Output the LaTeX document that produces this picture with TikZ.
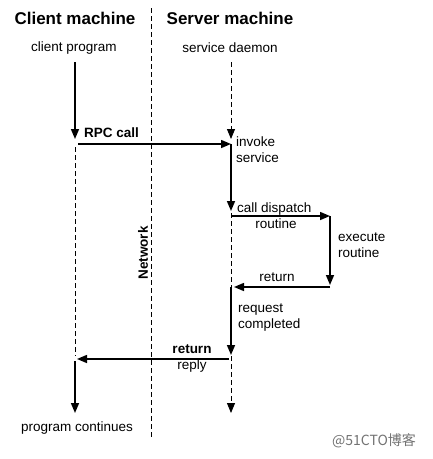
\documentclass[tikz,border=0pt]{standalone}
\usepackage{fontspec}
\setmainfont{Liberation Sans}
\newfontfamily\cjkfont{Noto Sans CJK SC}
\usetikzlibrary{arrows.meta}
\begin{document}
\begin{tikzpicture}[x=1pt,y=-1pt,
  title/.style={font=\fontsize{17}{19}\selectfont\bfseries, inner sep=0pt},
  lbl/.style={font=\fontsize{13.5}{16}\selectfont, inner sep=0pt, align=left},
  blbl/.style={font=\fontsize{13.5}{16}\selectfont\bfseries, inner sep=0pt},
  solidln/.style={line width=1.5pt},
  dashln/.style={line width=0.9pt, dash pattern=on 5pt off 3pt},
  tip/.style={-{Triangle[length=10pt,width=8pt]}}
]
\useasboundingbox[fill=white] (0,0) rectangle (433,459);
% titles
\node[title] (cm) at (75,18) {Client machine};
\node[title] (sm) at (230,18) {Server machine};
\node[lbl] (cp) at (74,48) {client program};
\node[lbl] (sd) at (230,48) {service daemon};
% network
\coordinate (n0) at (151,8);
\coordinate (n1) at (151,437);
\draw[dashln] (n0) -- (n1);
\node[blbl, rotate=90] (net) at (143,253) {Network};
% lifeline points
\coordinate (a0) at (75,62);
\coordinate (a1) at (75,144);
\coordinate (a2) at (75,359);
\coordinate (a3) at (75,413);
\coordinate (s0) at (231,62);
\coordinate (s1) at (231,144);
\coordinate (s2) at (231,216);
\coordinate (s3) at (231,287);
\coordinate (s4) at (231,359);
\coordinate (s5) at (231,413);
\coordinate (e1) at (330,216);
\coordinate (e2) at (330,287);
% client
\draw[solidln,tip,shorten >=5pt] (a0) -- (a1);
\draw[dashln] ([yshift=-3pt]a1) -- ([yshift=3pt]a2);
\draw[solidln,tip] ([yshift=-2pt]a2) -- (a3);
% RPC call
\draw[solidln,tip,shorten <=3pt] (a1) -- (s1);
\node[blbl, anchor=base west] (rpc) at (84,137) {RPC call};
% server
\draw[dashln,tip,shorten >=5pt] (s0) -- (s1);
\node[lbl, anchor=north west] (inv) at (236,137) {invoke\\service};
\draw[solidln,tip,shorten >=5pt] (s1) -- (s2);
\draw[solidln,tip] (s2) -- (e1);
\node[lbl, anchor=base west] (cd) at (237,212) {call dispatch};
\node[lbl] (rt) at (276,224) {routine};
\draw[solidln,tip,shorten >=2pt] (e1) -- (e2);
\node[lbl, anchor=north west] (ex) at (338,233) {execute\\routine};
\draw[solidln,tip,shorten >=3pt] (e2) -- (s3);
\node[lbl] (ret) at (277,277) {return};
\draw[dashln] ([yshift=3pt]s2) -- (s3);
\draw[solidln,tip,shorten >=4pt] (s3) -- (s4);
\node[lbl, anchor=north west] (rc) at (238,304) {request\\completed};
% return reply
\draw[solidln,tip,shorten >=2pt] ([xshift=-2pt]s4) -- (a2);
\node[blbl] (retb) at (192,349) {return};
\node[lbl] (rep) at (192,366) {reply};
\draw[dashln,tip] ([yshift=3pt]s4) -- (s5);
\node[lbl] (pc) at (77,428) {program continues};
\node[font=\cjkfont\fontsize{14}{16}\selectfont, text=black!55, inner sep=0pt] (wm) at (374,441) {@51CTO博客};
\end{tikzpicture}
\end{document}
